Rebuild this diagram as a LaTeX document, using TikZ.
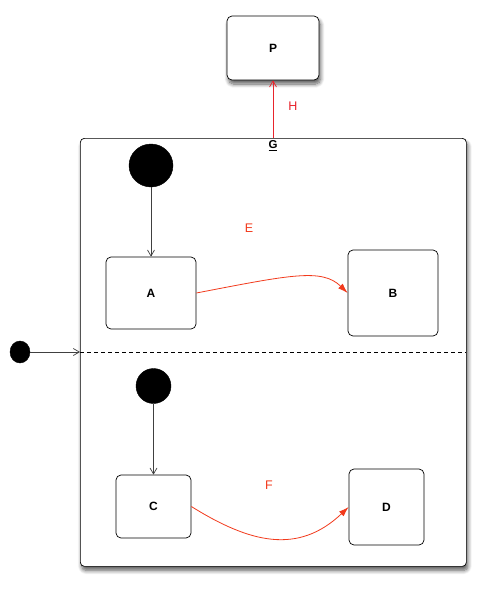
\documentclass[tikz,border=0pt]{standalone}
\usepackage{fontspec}
\setmainfont{Liberation Sans}
\usetikzlibrary{arrows.meta,shadows.blur,shapes.geometric}
\definecolor{arrred}{HTML}{F23A1C}
\definecolor{hred}{HTML}{E8242C}
\tikzset{
  state/.style={draw, line width=0.7pt, rounded corners=5pt, fill=white, font=\bfseries\fontsize{12}{14}\selectfont, inner sep=0pt},
  shad/.style={blur shadow={shadow blur steps=8, shadow xshift=1.5pt, shadow yshift=-4pt, shadow opacity=65, shadow blur radius=4pt}},
  initdot/.style={ellipse, fill=black, draw=black, inner sep=0pt},
  lbl/.style={text=arrred, font=\fontsize{12.5}{14}\selectfont},
  flow/.style={draw=black!75, line width=0.7pt, -{Straight Barb[length=6pt,width=7pt]}},
  trans/.style={draw=arrred, line width=0.8pt, -{Latex[length=10pt,width=6.5pt]}},
}
\begin{document}
\begin{tikzpicture}[x=1pt,y=-1pt]
\useasboundingbox (0,0) rectangle (486,590);
% container
\node[state, shad, rounded corners=4pt, minimum width=386pt, minimum height=428pt, anchor=north west] (G) at (80,138) {};
\node[anchor=north, font=\bfseries\fontsize{11.5}{13}\selectfont, inner sep=0pt] (Glbl) at (273,140.5) {\underline{G}};
\coordinate (dl) at (80,352);
\coordinate (dr) at (466,352);
\draw[dashed, line width=0.7pt, dash pattern=on 4pt off 3pt] (dl) -- (dr);
% P
\node[state, shad, minimum width=92pt, minimum height=64pt] (P) at (273,48) {P};
\coordinate (Gtop) at (273,138);
\draw[hred, line width=0.7pt, -{Straight Barb[length=6pt,width=7pt]}] (Gtop) -- (P.south);
\node[lbl, text=hred] (H) at (293,106) {H};
% outer initial
\node[initdot, minimum width=20pt, minimum height=22pt] (i0) at (20,352) {};
\draw[flow] (i0) -- (dl);
% top region
\node[initdot, minimum width=44pt, minimum height=43pt] (i1) at (151,165.5) {};
\node[state, minimum width=90pt, minimum height=72pt] (A) at (151,293) {A};
\node[state, minimum width=90pt, minimum height=86pt] (B) at (393,293) {B};
\draw[flow] (i1) -- (A.north);
\node[lbl] (E) at (249,228) {E};
\draw[trans] (A.east) .. controls (290,275) and (322,268) .. (B.west);
% bottom region
\node[initdot, minimum width=35pt, minimum height=35pt] (i2) at (153.5,386) {};
\node[state, minimum width=75pt, minimum height=63pt] (C) at (153.5,506.5) {C};
\node[state, minimum width=75pt, minimum height=76pt] (D) at (386.5,507) {D};
\draw[flow] (i2) -- (C.north);
\node[lbl] (F) at (269,485) {F};
\draw[trans] (C.east) .. controls (250,543) and (298,555) .. (D.west);
\end{tikzpicture}
\end{document}
